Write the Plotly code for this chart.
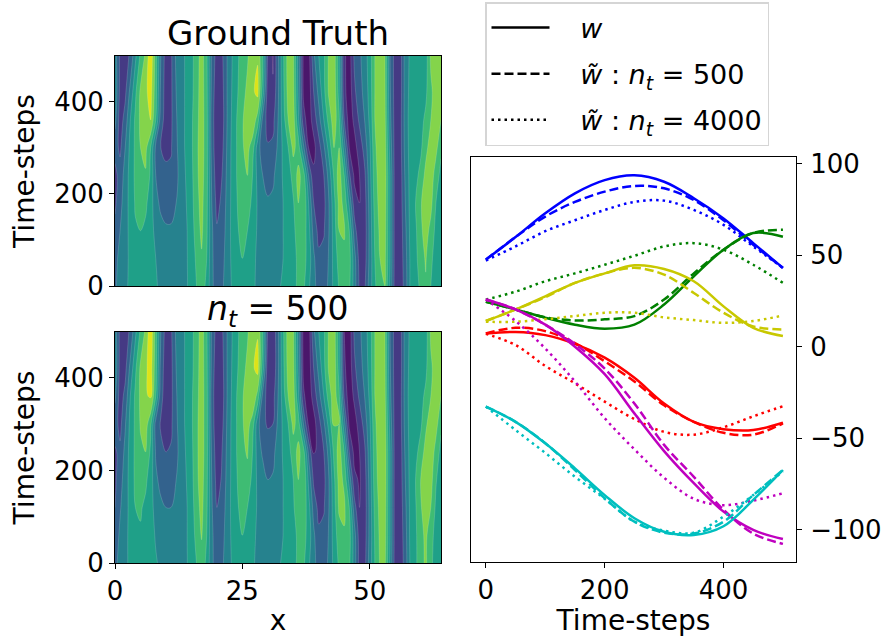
import plotly.graph_objects as go

FONT = "DejaVu Sans"
x_grid = list(range(65))
t_grid = [0, 60, 120, 180, 240, 300, 360, 420, 499]

# Field values (10 units per band)
truth = [
 [28,35,38,42,45,46,45,44,41,38,36,35,36,37,39,43,50,54,48,32,25,28,35,41,45,47,45,42,38,36,36,37,38,42,45,47,52,52,42,32,27,25,32,43,51,55,52,35,18,18,35,48,58,60,38,15,13,25,42,46,52,59,50,46,45],
 [27,33,37,42,46,48,47,44,40,36,33,33,34,36,39,44,52,59,50,32,24,26,35,42,47,50,47,43,38,36,35,36,37,40,44,47,52,54,46,32,22,23,31,44,54,58,54,34,16,15,33,50,60,62,40,15,14,26,42,47,56,61,52,46,44],
 [23,30,36,43,49,50,48,44,37,33,31,31,33,36,39,45,55,62,52,32,21,24,34,43,49,53,50,44,39,36,34,35,37,40,44,48,54,56,44,26,17,19,30,45,60,61,50,25,11,14,33,52,62,63,40,15,14,28,43,48,58,64,57,47,44],
 [18,27,35,44,51,54,52,45,33,28,27,27,30,35,40,46,57,63,53,30,17,22,33,43,50,55,56,47,39,35,31,32,36,40,44,49,60,60,40,20,13,17,30,47,63,58,38,14,10,15,34,54,64,64,40,15,15,30,44,50,59,65,63,50,44],
 [17,24,34,44,52,57,59,48,30,24,22,22,27,35,41,47,58,64,54,28,14,20,32,43,51,57,60,50,37,30,27,28,35,41,45,54,63,55,30,12,13,20,34,52,65,50,22,8,10,18,36,56,65,65,40,15,15,32,44,47,53,63,66,55,47],
 [24,18,30,43,52,60,63,50,27,20,18,19,28,36,42,48,58,65,54,26,12,17,31,43,51,59,63,55,35,24,21,22,32,42,50,63,55,32,10,7,16,28,44,60,60,35,10,7,14,24,38,58,66,64,36,15,16,34,44,46,48,57,65,63,52],
 [33,15,24,40,52,62,67,70,50,24,16,18,29,36,42,48,57,65,54,25,12,15,30,42,51,59,65,68,55,27,16,17,30,45,60,65,42,14,5,14,26,40,54,66,52,20,5,12,22,30,42,60,66,62,33,15,16,35,44,46,47,52,60,66,60],
 [38,17,18,33,48,62,68,74,54,27,15,18,30,36,42,47,56,65,53,27,12,16,30,41,49,57,62,68,73,45,14,11,28,47,64,63,38,8,4,20,33,47,62,66,46,13,4,18,26,33,44,60,66,61,31,15,15,35,43,45,46,48,58,65,62],
 [35,18,15,22,38,52,62,78,55,30,15,18,32,36,42,47,55,65,52,28,15,18,30,40,48,55,59,66,69,50,18,9,28,48,65,62,35,8,5,28,40,48,62,65,45,12,5,22,28,35,45,60,66,60,30,15,15,35,42,45,45,45,62,65,65],
]

approx_500 = [
 [27,34,38,42,45,46,45,44,41,38,36,35,36,37,39,44,50,55,48,32,25,28,35,41,45,47,45,42,37,35,35,36,38,42,45,47,52,52,42,32,27,25,32,43,52,56,52,35,16,16,35,50,61,62,38,15,13,25,42,48,56,62,52,46,45],
 [24,32,37,43,47,49,47,44,39,36,33,33,34,36,39,45,53,61,50,32,24,26,35,42,47,50,47,43,38,36,35,36,37,40,44,47,52,54,46,32,22,23,31,45,55,59,54,34,15,15,33,51,62,63,40,15,14,26,43,48,57,62,54,46,44],
 [20,29,36,43,50,51,48,44,36,32,30,30,33,36,39,45,56,63,52,31,20,24,34,43,49,53,50,44,39,36,34,35,37,40,44,49,55,57,44,26,17,19,30,46,62,62,50,24,10,14,33,53,63,64,40,15,14,28,43,49,59,65,60,48,44],
 [18,26,35,44,52,55,52,45,32,27,26,26,30,35,40,46,58,64,53,30,16,21,33,43,50,56,57,47,38,35,30,31,36,40,44,50,60,60,38,18,12,17,30,48,64,58,36,12,9,15,34,55,65,65,40,15,15,30,44,50,60,66,64,51,44],
 [19,22,33,44,52,58,60,48,29,22,20,21,27,35,41,47,58,65,54,28,14,20,32,43,51,58,61,50,36,28,25,27,35,41,46,55,63,54,28,9,12,20,34,53,65,50,20,7,10,18,36,56,66,65,40,15,15,32,44,47,54,64,67,56,47],
 [24,17,29,43,52,61,65,52,26,19,17,18,28,36,42,48,58,65,54,26,12,17,31,43,51,59,64,55,34,22,19,20,32,42,50,63,55,30,8,6,16,28,44,61,60,34,8,6,14,24,38,58,66,64,36,15,16,34,44,46,48,58,66,64,52],
 [32,15,23,40,52,62,68,72,50,23,15,17,29,36,42,48,57,65,54,25,12,15,30,42,51,59,65,70,56,27,15,16,30,45,60,65,42,12,4,14,26,40,55,66,52,18,4,12,22,30,42,60,66,62,33,15,16,35,44,46,47,52,60,66,60],
 [38,16,17,33,48,62,68,75,54,26,14,17,30,36,42,47,56,65,53,27,12,16,30,41,49,57,62,68,74,45,13,11,28,47,64,63,38,7,4,20,33,47,62,66,46,12,4,18,26,33,44,60,66,61,31,15,15,35,43,45,46,48,58,65,62],
 [35,17,15,22,38,52,62,78,55,30,15,18,32,36,42,47,55,65,52,28,15,18,30,40,48,55,59,66,69,50,18,12,28,48,65,62,35,6,4,28,40,48,62,65,45,10,4,22,28,35,45,60,66,60,30,15,15,35,42,45,45,45,62,65,65],
]

band_colors = ["#4a176b", "#453a84", "#33628d", "#26828e", "#1fa088", "#3fbc73", "#84d44b", "#dde318"]

steps = [0, 50, 100, 150, 200, 250, 300, 350, 400, 450, 500]
blue_w = [47.5, 59.8, 72.8, 83.7, 90.9, 93.5, 90, 81, 70, 56.5, 43]
blue_500 = [47.5, 59.8, 71, 79, 84.6, 87.7, 86.4, 80, 69, 55.6, 43]
blue_4000 = [47, 54.7, 63, 69, 74.6, 79, 79.7, 74.6, 66.5, 54.7, 43]
green_w = [24.5, 20.3, 15.8, 12, 9.8, 12, 23, 38.4, 52.9, 62, 60]
green_500 = [24.5, 20.3, 16, 14.3, 14.9, 16.7, 25.7, 40, 52.9, 62, 63.8]
green_4000 = [25.7, 30, 35.7, 40, 44.7, 49.6, 54.7, 56.5, 52.9, 44.7, 34.8]
yellow_w = [14, 20.3, 27.5, 34.8, 40, 44.4, 42.4, 35.7, 22, 10.3, 5.8]
yellow_500 = [14, 20.3, 27, 34.8, 40, 43, 39.3, 29.3, 18.5, 11, 9.4]
yellow_4000 = [13.6, 13.6, 15, 16.7, 18.5, 18.5, 16, 14.5, 13, 14, 17]
magenta_w = [25.7, 20.3, 12, 0, -15, -36.4, -57, -74.5, -90, -100, -105]
magenta_500 = [25.7, 20.3, 12, 1.5, -12, -31, -53.6, -71, -89, -102, -107.6]
magenta_4000 = [25.7, 14, -1, -19, -39, -56, -71.5, -83, -86.5, -84, -80]
red_w = [7.2, 8, 6.3, 1.5, -6, -17, -31, -41, -45, -45.5, -41.5]
red_500 = [7.2, 10.3, 8.5, 2, -8, -19, -32, -41, -47, -48, -41.8]
red_4000 = [7, 0.9, -10.5, -20, -30, -39.5, -46.5, -48, -44, -38, -32.5]
cyan_w = [-32.7, -41, -52.7, -66.4, -81, -93.6, -101, -102.7, -98, -83.6, -67.3]
cyan_500 = [-32.7, -41, -52.7, -67.3, -82.7, -95.5, -101.5, -102, -95.5, -81, -67.3]
cyan_4000 = [-32.7, -45.5, -58, -71, -83, -95.5, -100.4, -101.5, -92.7, -81, -68]

series = [
    ("#0000ff", blue_w, blue_500, blue_4000),
    ("#008000", green_w, green_500, green_4000),
    ("#c8c800", yellow_w, yellow_500, yellow_4000),
    ("#ff0000", red_w, red_500, red_4000),
    ("#bf00bf", magenta_w, magenta_500, magenta_4000),
    ("#00bfbf", cyan_w, cyan_500, cyan_4000),
]

W, H = 888, 637
def px(v): return v / W
def py(v): return 1 - v / H
DASH = "9px,4px"
DOT = "2.5px,4px"

colorscale = []
for i, c in enumerate(band_colors):
    colorscale += [[i / 8, c], [(i + 1) / 8, c]]

fig = go.Figure()

for z, ax, ay in [(truth, "x", "y"), (approx_500, "x2", "y2")]:
    fig.add_trace(go.Contour(
        x=x_grid, y=t_grid, z=z, xaxis=ax, yaxis=ay, showscale=False,
        colorscale=colorscale, zmin=0, zmax=80, autocontour=False,
        contours=dict(start=10, end=70, size=10, coloring="fill", showlines=True),
        line=dict(color="rgba(255,255,255,0.3)", width=0.5, smoothing=1),
        hoverinfo="skip",
    ))

for color, w, a, b in series:
    for vals, dash in [(w, "solid"), (a, DASH), (b, DOT)]:
        fig.add_trace(go.Scatter(
            x=steps, y=vals, xaxis="x3", yaxis="y3", mode="lines", showlegend=False,
            line=dict(color=color, width=2.5, dash=dash, shape="spline", smoothing=1),
        ))

GAP = "\u00a0\u00a0\u00a0"
legend_entries = [
    (GAP + "<i>w</i>", "solid"),
    (GAP + "<i>w\u0303</i> : <i>n<sub>t</sub></i> = 500", DASH),
    (GAP + "<i>w\u0303</i> : <i>n<sub>t</sub></i> = 4000", DOT),
]
for i, (name, dash) in enumerate(legend_entries):
    fig.add_trace(go.Scatter(
        x=[None], y=[None], xaxis="x3", yaxis="y3", mode="lines", name=name,
        legendgroup=f"g{i}", line=dict(color="black", width=2.5, dash=dash),
    ))

axis_common = dict(showline=True, linecolor="black", linewidth=1, mirror=True, showgrid=False,
                   zeroline=False, ticks="outside", ticklen=5, tickwidth=1, tickcolor="black",
                   automargin=False,
                   tickfont=dict(size=26, color="black", family=FONT))
title_font = dict(size=28, color="black", family=FONT)

fig.update_layout(
    width=W, height=H, margin=dict(l=0, r=0, t=0, b=0), autosize=False,
    paper_bgcolor="white", plot_bgcolor="white",
    font=dict(family=FONT, color="black"),
    xaxis=dict(axis_common, domain=[px(115), px(441)], range=[0, 64], anchor="y", ticks="", showticklabels=False),
    yaxis=dict(axis_common, domain=[py(286), py(56)], range=[0, 499], tickvals=[0, 200, 400], anchor="x",
               title=dict(text="Time-steps", font=title_font, standoff=11)),
    xaxis2=dict(axis_common, domain=[px(115), px(441)], range=[0, 64], tickvals=[0, 25, 50], anchor="y2",
                title=dict(text="x", font=title_font, standoff=8)),
    yaxis2=dict(axis_common, domain=[py(563), py(332)], range=[0, 499], tickvals=[0, 200, 400], anchor="x2",
                title=dict(text="Time-steps", font=title_font, standoff=11)),
    xaxis3=dict(axis_common, domain=[px(471), px(796)], range=[-25, 522], tickvals=[0, 200, 400], anchor="y3",
                title=dict(text="Time-steps", font=title_font, standoff=8)),
    yaxis3=dict(axis_common, domain=[py(562), py(157)], range=[-117.5, 103.5], side="right",
                ticklabelstandoff=3,
                tickvals=[-100, -50, 0, 50, 100], ticktext=["\u2212100", "\u221250", "0", "50", "100"], anchor="x3"),
    legend=dict(x=px(485), y=py(2), xanchor="left", yanchor="top", bgcolor="white",
                bordercolor="#d5d5d5", borderwidth=1.5, font=dict(size=27, color="black", family=FONT),
                itemwidth=58, tracegroupgap=8, traceorder="grouped", entrywidth=250),
    annotations=[
        dict(text=t, x=px(xp), y=py(yp), xref="paper", yref="paper", showarrow=False,
             xanchor="center", yanchor="middle", font=dict(size=s))
        for t, xp, yp, s in [
            ("Ground Truth", 278, 33, 34),
            ("<i>n<sub>t</sub></i> = 500", 278, 310, 33),
        ]
    ],
)

fig.write_html("out.html", config={"displayModeBar": False},
               post_script="document.body.style.margin='0';")
